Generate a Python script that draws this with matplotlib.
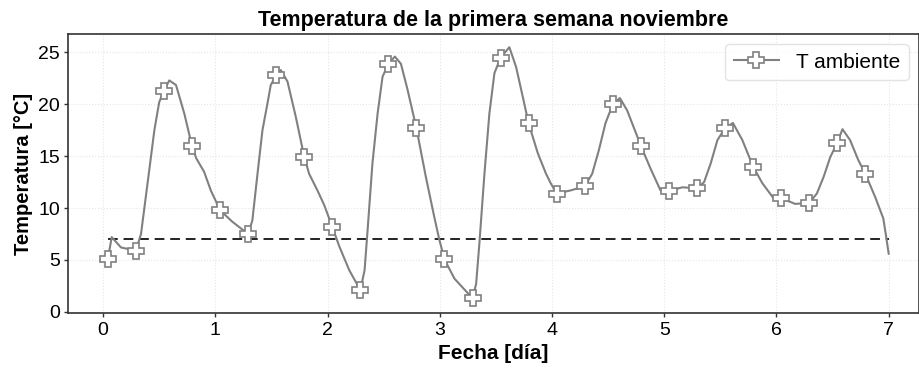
import matplotlib.pyplot as plt
import numpy as np

plt.rcParams['font.family'] = ['Liberation Sans', 'DejaVu Sans']

# time in days, temperature in °C
t = [0.042, 0.077, 0.16, 0.292, 0.338, 0.40, 0.457, 0.50, 0.542, 0.59, 0.65, 0.724,
     0.792, 0.83, 0.90, 0.96, 1.042, 1.15, 1.292, 1.33, 1.376, 1.42, 1.465, 1.494,
     1.542, 1.583, 1.643, 1.717, 1.792, 1.836, 1.91, 1.97, 2.042, 2.105, 2.194,
     2.292, 2.33, 2.357, 2.40, 2.446, 2.49, 2.542, 2.60, 2.654, 2.713, 2.792, 2.876,
     2.95, 2.995, 3.042, 3.131, 3.292, 3.324, 3.353, 3.398, 3.442, 3.487, 3.542,
     3.62, 3.68, 3.74, 3.792, 3.873, 3.947, 3.988, 4.042, 4.166, 4.292, 4.358,
     4.418, 4.477, 4.542, 4.605, 4.67, 4.792, 4.878, 4.967, 5.042, 5.162, 5.292,
     5.355, 5.414, 5.474, 5.542, 5.612, 5.696, 5.792, 5.874, 5.977, 6.042, 6.167,
     6.292, 6.36, 6.42, 6.479, 6.542, 6.588, 6.656, 6.73, 6.792, 6.878, 6.952,
     6.973, 7.0]
temp = [5.05, 7.2, 6.2, 5.9, 7.5, 12.7, 17.5, 20.2, 21.3, 22.3, 21.85, 19.1,
        16.0, 14.8, 13.5, 11.7, 9.8, 8.7, 7.5, 8.8, 13.3, 17.5, 20.1, 21.85,
        22.8, 23.3, 22.2, 18.8, 14.95, 13.3, 11.7, 10.3, 8.2, 6.3, 4.0,
        2.1, 4.0, 7.9, 14.3, 19.1, 22.65, 23.9, 24.6, 23.9, 21.4, 17.7, 13.0,
        9.2, 7.0, 5.05, 3.2, 1.3, 2.7, 6.6, 13.3, 19.1, 23.0, 24.5,
        25.5, 23.6, 20.7, 18.15, 15.3, 13.3, 12.4, 11.4, 11.7, 12.1, 13.3,
        15.6, 18.2, 20.0, 20.6, 19.4, 16.0, 13.8, 11.7, 11.65, 12.0, 11.9,
        12.5, 14.3, 16.55, 17.7, 18.2, 16.55, 14.0, 12.4, 10.9, 10.95, 10.4,
        10.5, 11.4, 13.0, 14.9, 16.3, 17.6, 16.55, 14.6, 13.3, 11.1, 9.0,
        7.55, 5.6]
marker_t = [0.042 + 0.25 * k for k in range(28)]
t_ref = 7.0

t = np.array(t)
temp = np.array(temp)
mark_idx = [int(np.argmin(np.abs(t - m))) for m in marker_t]

fig = plt.figure(figsize=(9.19, 3.7), dpi=100)
ax = fig.add_axes([0.0743, 0.153, 0.9257, 0.755])

ax.plot(t, temp, color='#808080', linewidth=1.5, marker='P', markersize=11,
        markerfacecolor='white', markeredgecolor='#808080', markeredgewidth=1.2,
        markevery=mark_idx, label='T ambiente', zorder=3)
ax.plot([t[0], t[-1]], [t_ref, t_ref], color='#222222', linestyle='--',
        linewidth=1.4, dashes=(5, 3), zorder=2)

ax.set_xlim(-0.31, 7.27)
ax.set_ylim(-0.15, 26.77)
ax.set_xticks(range(0, 8))
ax.set_yticks([0, 5, 10, 15, 20, 25])
ax.grid(True, color='#e6e6e6', linewidth=0.8, linestyle=':')
ax.set_axisbelow(True)
for s in ax.spines.values():
    s.set_color('#333333')
    s.set_linewidth(1.2)
ax.tick_params(axis='both', labelsize=14, length=3, width=1, color='#333333',
               pad=3)

ax.set_title('Temperatura de la primera semana noviembre', fontsize=15.5,
             fontweight='bold', pad=6)
ax.set_xlabel('Fecha [día]', fontsize=15, fontweight='bold', labelpad=4)
ax.set_ylabel('Temperatura [°C]', fontsize=14.5, fontweight='bold', labelpad=4)

leg = ax.legend(loc='upper right', fontsize=15, frameon=True, fancybox=True,
                handlelength=2.2, borderpad=0.4)
leg.get_frame().set_edgecolor('#dddddd')
leg.get_frame().set_linewidth(1)

fig.savefig('out.png', dpi=100)
